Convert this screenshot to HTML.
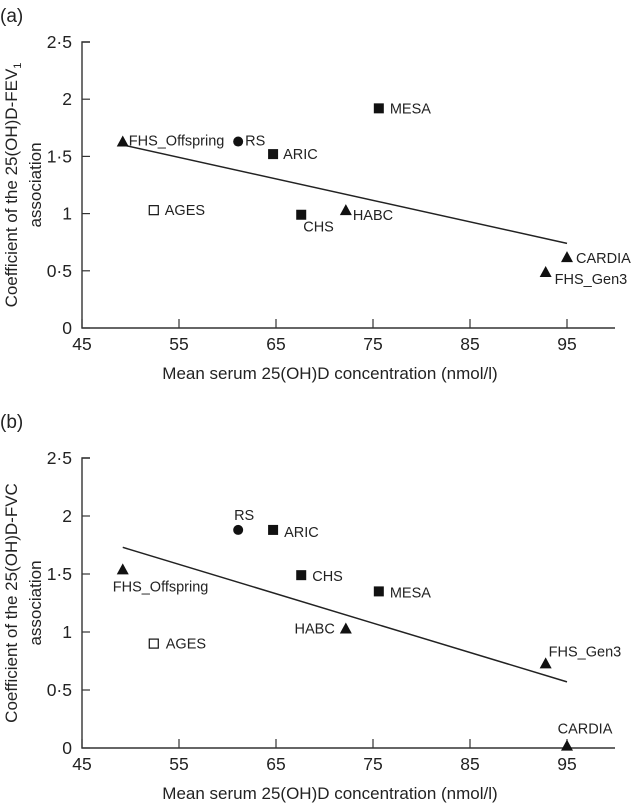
<!DOCTYPE html>
<html><head><meta charset="utf-8"><style>
body{margin:0;background:#fff}
svg{display:block;font-family:"Liberation Sans",Arial,sans-serif;fill:#222}
</style></head><body>
<svg id="chart" width="633" height="803" viewBox="0 0 633 803">
<text x="0" y="22" font-size="19">(a)</text>
<text x="0" y="428" font-size="19">(b)</text>
</svg>
<script>
const studies = ["FHS_Offspring","RS","ARIC","AGES","CHS","HABC","MESA","CARDIA","FHS_Gen3"];
const markers = ["tri","circle","sq","open","sq","tri","sq","tri","tri"];
const meanVitD = [49.2,61.1,64.7,52.4,67.6,72.2,75.6,95,92.8];
const coefFEV1 = [1.63,1.63,1.52,1.03,0.99,1.03,1.92,0.62,0.49];
const coefFVC = [1.54,1.88,1.88,0.90,1.49,1.03,1.35,0.02,0.73];
const fitFEV1 = [[49.2,1.60],[95,0.74]];
const fitFVC = [[49.2,1.73],[95,0.57]];
const xTicks = [45,55,65,75,85,95];
const yTicks = [0,0.5,1,1.5,2,2.5];
const yTickLabels = ["0","0·5","1","1·5","2","2·5"];
// label offsets [dx, dy, anchor] relative to marker
const labA = [[6,4,"start"],[7,4,"start"],[10,5,"start"],[11,5,"start"],[2,17,"start"],[7,10,"start"],[11,5,"start"],[9,6,"start"],[9,12,"start"]];
const labB = [[-10,22,"start"],[6,-10,"middle"],[11,7,"start"],[12,5,"start"],[11,6,"start"],[-11,5,"end"],[11,6,"start"],[18,-12,"middle"],[3,-7,"start"]];

const svg=document.getElementById('chart');
const NS='http://www.w3.org/2000/svg';
function mk(tag,attrs,parent){const e=document.createElementNS(NS,tag);for(const k in attrs)e.setAttribute(k,attrs[k]);(parent||svg).appendChild(e);return e;}

function panel(p){
  const g=mk('g',{});
  
  
  const X=v=>82+(v-45)*9.7;
  const Y=v=>p.y0-v*p.k;
  const ax=mk('path',{d:`M90 ${Y(2.5)} H82 V${p.y0} H615`,stroke:'#333','stroke-width':1.4,fill:'none'},g);
  
  
  yTicks.forEach((t,i)=>{
    mk('line',{x1:82,x2:90,y1:Y(t),y2:Y(t),stroke:'#333','stroke-width':1.2},g);
    const tx=mk('text',{x:72,y:Y(t)+6,'font-size':17.5,'text-anchor':'end'},g);
    tx.textContent=yTickLabels[i];
    
    
  });
  xTicks.forEach(t=>{
    mk('line',{x1:X(t),x2:X(t),y1:p.y0,y2:p.y0-9,stroke:'#333','stroke-width':1.2},g);
    const tx=mk('text',{x:X(t),y:p.y0+22,'font-size':17.5,'text-anchor':'middle'},g);
    tx.textContent=t;
    
    
  });
  const xt=mk('text',{x:330,y:p.y0+51,'font-size':17,'text-anchor':'middle'},g);
  xt.textContent='Mean serum 25(OH)D concentration (nmol/l)';
  
  
  const cy=Y(1.25);
  const yt=mk('text',{transform:`translate(17 ${cy}) rotate(-90)`,'font-size':17,'text-anchor':'middle'},g);
  yt.innerHTML=p.title;
  
  
  const yt2=mk('text',{transform:`translate(41 ${cy}) rotate(-90)`,'font-size':17,'text-anchor':'middle'},g);
  yt2.textContent='association';
  
  
  const ln=mk('line',{x1:X(p.fit[0][0]),y1:Y(p.fit[0][1]),x2:X(p.fit[1][0]),y2:Y(p.fit[1][1]),stroke:'#222','stroke-width':1.5},g);
  
  
  studies.forEach((s,i)=>{
    const x=X(meanVitD[i]),y=Y(p.vals[i]);let m;
    if(markers[i]==='tri')m=mk('path',{d:`M${x} ${y-6} L${x+6} ${y+5} L${x-6} ${y+5}Z`,fill:'#111'},g);
    else if(markers[i]==='circle')m=mk('circle',{cx:x,cy:y,r:5,fill:'#111'},g);
    else if(markers[i]==='sq')m=mk('rect',{x:x-5,y:y-5,width:10,height:10,fill:'#111'},g);
    else m=mk('rect',{x:x-4.5,y:y-4.5,width:9,height:9,fill:'#fff',stroke:'#111','stroke-width':1.2},g);
    
    
    const l=p.lab[i];
    const t=mk('text',{x:x+l[0],y:y+l[1],'font-size':14.5,'text-anchor':l[2]},g);
    t.textContent=s;
    
    
  });
}
panel({id:'panel-a',y0:328,k:114.4,vals:coefFEV1,fit:fitFEV1,lab:labA,title:'Coefficient of the 25(OH)D-FEV<tspan font-size="11" dy="4">1</tspan>'});
panel({id:'panel-b',y0:748,k:116,vals:coefFVC,fit:fitFVC,lab:labB,title:'Coefficient of the 25(OH)D-FVC'});
</script>
</body></html>
